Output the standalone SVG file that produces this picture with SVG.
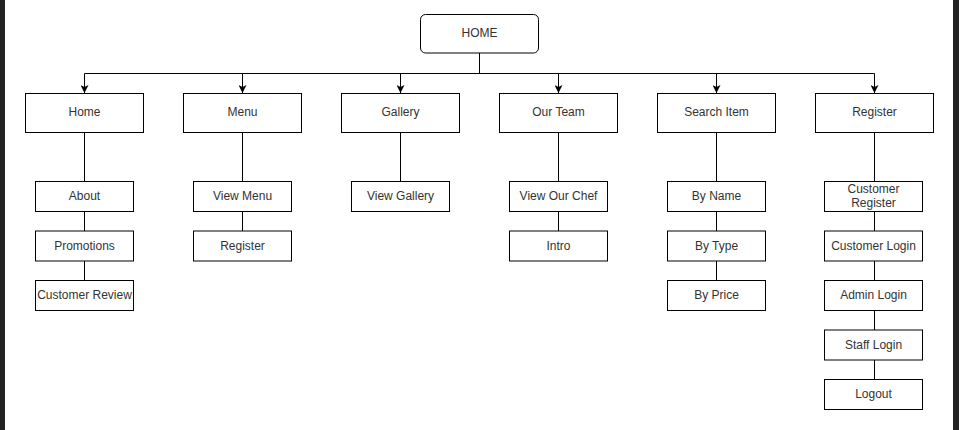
<svg xmlns="http://www.w3.org/2000/svg" width="959" height="430" viewBox="0 0 959 430">
<style>
.b{fill:#fff;stroke:#000;stroke-width:1}
.t{font-family:"Liberation Sans",Arial,sans-serif;font-size:12px;fill:#333;text-anchor:middle;dominant-baseline:central}
.c{fill:none;stroke:#000;stroke-width:1}
</style>
<defs>
<marker id="ar" viewBox="0 0 8 8" refX="8" refY="4" markerWidth="8" markerHeight="8" markerUnits="userSpaceOnUse" orient="auto">
<path d="M0,0 L8,4 L0,8 L2,4 Z" fill="#000"/>
</marker>
</defs>
<rect x="0" y="0" width="959" height="430" fill="#fff"/>
<rect x="0" y="0" width="5" height="430" fill="#222"/>
<rect x="953" y="0" width="6" height="430" fill="#222"/>
<g id="connectors">
<path class="c" d="M479.5,53 V73.5 M84.5,73.5 H874.5"/>
<path class="c" d="M84.5,73.5 V93" marker-end="url(#ar)"/>
<path class="c" d="M242.5,73.5 V93" marker-end="url(#ar)"/>
<path class="c" d="M400.5,73.5 V93" marker-end="url(#ar)"/>
<path class="c" d="M558.5,73.5 V93" marker-end="url(#ar)"/>
<path class="c" d="M716.5,73.5 V93" marker-end="url(#ar)"/>
<path class="c" d="M874.5,73.5 V93" marker-end="url(#ar)"/>
<path class="c" d="M84.5,132 V310 M242.5,132 V260 M400.5,132 V211 M558.5,132 V260 M716.5,132 V310 M874.5,132 V409"/>
</g>
<g id="n-root"><rect class="b" x="420.5" y="14.5" width="118" height="38.5" rx="5"/><text class="t" x="479.5" y="32.5">HOME</text></g>
<g id="n-home"><rect class="b" x="25.5" y="93.5" width="118" height="39"/><text class="t" x="84.5" y="112">Home</text></g>
<g id="n-menu"><rect class="b" x="183.5" y="93.5" width="118" height="39"/><text class="t" x="242.5" y="112">Menu</text></g>
<g id="n-gallery"><rect class="b" x="341.5" y="93.5" width="118" height="39"/><text class="t" x="400.5" y="112">Gallery</text></g>
<g id="n-team"><rect class="b" x="499.5" y="93.5" width="118" height="39"/><text class="t" x="558.5" y="112">Our Team</text></g>
<g id="n-search"><rect class="b" x="657.5" y="93.5" width="118" height="39"/><text class="t" x="716.5" y="112">Search Item</text></g>
<g id="n-register"><rect class="b" x="815.5" y="93.5" width="118" height="39"/><text class="t" x="874.5" y="112">Register</text></g>

<g id="n-about"><rect class="b" x="35.5" y="181.5" width="98" height="30"/><text class="t" x="84.5" y="196">About</text></g>
<g id="n-promotions"><rect class="b" x="35.5" y="231" width="98" height="30"/><text class="t" x="84.5" y="245.5">Promotions</text></g>
<g id="n-review"><rect class="b" x="35.5" y="280.5" width="98" height="30"/><text class="t" x="84.5" y="295">Customer Review</text></g>

<g id="n-viewmenu"><rect class="b" x="193.5" y="181.5" width="98" height="30"/><text class="t" x="242.5" y="196">View Menu</text></g>
<g id="n-menureg"><rect class="b" x="193.5" y="231" width="98" height="30"/><text class="t" x="242.5" y="245.5">Register</text></g>

<g id="n-viewgallery"><rect class="b" x="351.5" y="181.5" width="98" height="30"/><text class="t" x="400.5" y="196">View Gallery</text></g>

<g id="n-chef"><rect class="b" x="509.5" y="181.5" width="98" height="30"/><text class="t" x="558.5" y="196">View Our Chef</text></g>
<g id="n-intro"><rect class="b" x="509.5" y="231" width="98" height="30"/><text class="t" x="558.5" y="245.5">Intro</text></g>

<g id="n-byname"><rect class="b" x="667.5" y="181.5" width="98" height="30"/><text class="t" x="716.5" y="196">By Name</text></g>
<g id="n-bytype"><rect class="b" x="667.5" y="231" width="98" height="30"/><text class="t" x="716.5" y="245.5">By Type</text></g>
<g id="n-byprice"><rect class="b" x="667.5" y="280.5" width="98" height="30"/><text class="t" x="716.5" y="295">By Price</text></g>

<g id="n-custreg"><rect class="b" x="824.5" y="181.5" width="98" height="30"/><text class="t" x="873.5" y="189">Customer</text><text class="t" x="873.5" y="203">Register</text></g>
<g id="n-custlogin"><rect class="b" x="824.5" y="231" width="98" height="30"/><text class="t" x="873.5" y="245.5">Customer Login</text></g>
<g id="n-adminlogin"><rect class="b" x="824.5" y="280.5" width="98" height="30"/><text class="t" x="873.5" y="295">Admin Login</text></g>
<g id="n-stafflogin"><rect class="b" x="824.5" y="330" width="98" height="30"/><text class="t" x="873.5" y="344.5">Staff Login</text></g>
<g id="n-logout"><rect class="b" x="824.5" y="379.5" width="98" height="30"/><text class="t" x="873.5" y="394">Logout</text></g>
</svg>
